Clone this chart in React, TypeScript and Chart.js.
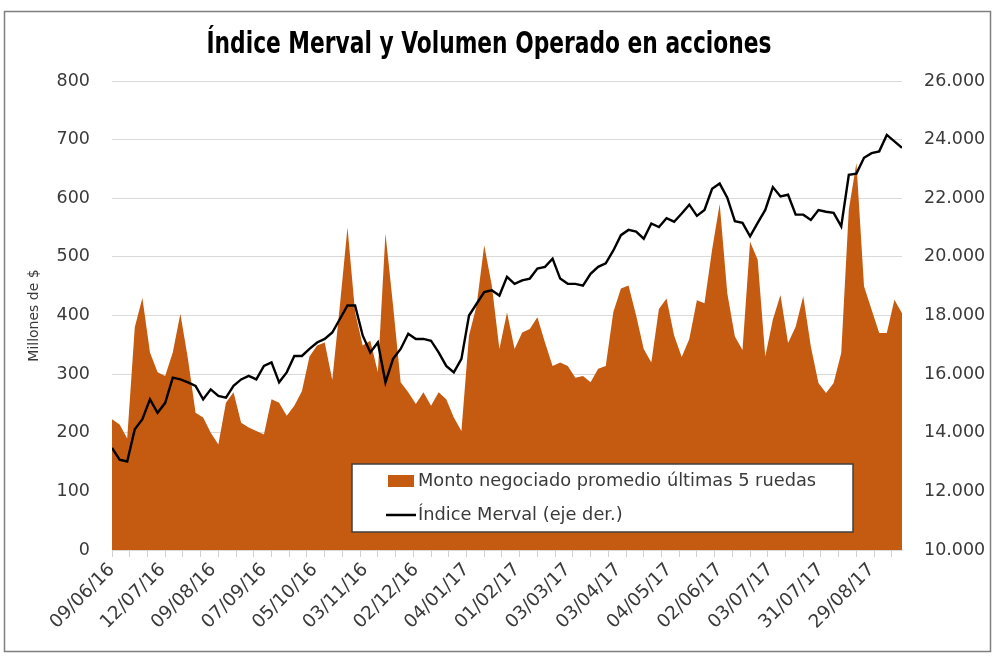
import { useEffect, useRef } from "react";
import { Chart, registerables } from "chart.js";

Chart.register(...registerables);

// ---- data ----
const tickLabels = [
  "09/06/16", "12/07/16", "09/08/16", "07/09/16", "05/10/16", "03/11/16",
  "02/12/16", "04/01/17", "01/02/17", "03/03/17", "03/04/17", "04/05/17",
  "02/06/17", "03/07/17", "31/07/17", "29/08/17",
];

// Monto negociado promedio últimas 5 ruedas (millones de $), one reading every 3 ruedas
const volume = [
  223, 214, 190, 380, 430, 337, 303, 297, 337, 403,
  326, 234, 226, 200, 180, 251, 269, 217, 209, 203,
  197, 257, 251, 229, 246, 271, 330, 349, 354, 290,
  417, 550, 406, 349, 357, 303, 540, 417, 286, 269,
  249, 269, 246, 269, 257, 226, 203, 366, 417, 520,
  451, 343, 405, 343, 371, 377, 397, 354, 314, 320,
  314, 294, 297, 286, 309, 314, 406, 446, 451, 400,
  343, 320, 411, 429, 366, 329, 360, 426, 421, 512,
  590, 438, 364, 341, 526, 495, 330, 393, 435, 353,
  381, 433, 347, 285, 268, 285, 336, 581, 660, 450,
  410, 370, 370, 427, 404,
];

// Índice Merval, same ruedas
const merval = [
  13480, 13080, 13020, 14120, 14460, 15140, 14680, 15020, 15880, 15820,
  15720, 15600, 15140, 15480, 15260, 15200, 15600, 15820, 15940, 15820,
  16280, 16400, 15720, 16060, 16620, 16620, 16860, 17080, 17200, 17420,
  17880, 18340, 18340, 17320, 16740, 17080, 15720, 16520, 16860, 17380,
  17200, 17200, 17140, 16740, 16280, 16060, 16520, 18000, 18400, 18800,
  18860, 18680, 19320, 19080, 19200, 19260, 19600, 19660, 19940, 19260,
  19080, 19080, 19020, 19420, 19660, 19780, 20220, 20740, 20920, 20860,
  20620, 21140, 21020, 21320, 21200, 21480, 21780, 21400, 21600, 22320,
  22500, 22020, 21220, 21160, 20700, 21160, 21600, 22380, 22060, 22120,
  21440, 21440, 21260, 21600, 21540, 21500, 21040, 22800, 22840, 23380,
  23540, 23600, 24160, 23940, 23720,
];

const SAMPLE_STEP = 3; // ruedas between readings
const LABEL_EVERY = 20; // ruedas between date labels
const TICK_EVERY = 7; // ruedas between tick marks
const LAST_RUEDA = (volume.length - 1) * SAMPLE_STEP;

const TITLE = "Índice Merval y Volumen Operado en acciones";
const LEGEND_AREA = "Monto negociado promedio últimas 5 ruedas";
const LEGEND_LINE = "Índice Merval (eje der.)";
const AREA_COLOR = "#C55A11";
const TEXT_COLOR = "#3a3a3a";
const FONT = '"DejaVu Sans", sans-serif';

const fmtThousands = (v: number) =>
  String(Math.round(v)).replace(/\B(?=(\d{3})+(?!\d))/g, ".");

const xTickValues: number[] = (() => {
  const s = new Set<number>();
  for (let v = 0; v <= LAST_RUEDA; v += TICK_EVERY) s.add(v);
  for (let k = 0; k < tickLabels.length; k++) s.add(k * LABEL_EVERY);
  return Array.from(s).sort((a, b) => a - b);
})();

const decorPlugin = {
  id: "decor",
  beforeDraw(chart: any) {
    const ctx = chart.ctx;
    ctx.save();
    ctx.fillStyle = "#ffffff";
    ctx.fillRect(0, 0, chart.width, chart.height);
    ctx.restore();
  },
  afterDraw(chart: any) {
    const ctx = chart.ctx;
    ctx.save();
    // chart frame
    ctx.strokeStyle = "#7f7f7f";
    ctx.lineWidth = 1.5;
    ctx.strokeRect(4.5, 11.5, 986, 640);
    // title (condensed bold)
    ctx.save();
    ctx.fillStyle = "#000";
    ctx.font = 'bold 30px "Liberation Sans Narrow", "DejaVu Sans Condensed", sans-serif';
    ctx.textAlign = "center";
    ctx.textBaseline = "middle";
    const natural = ctx.measureText(TITLE).width;
    const sx = Math.min(1, 565 / natural);
    ctx.translate(489, 45);
    ctx.scale(sx, 1);
    ctx.fillText(TITLE, 0, 0);
    ctx.restore();
    // legend
    const lx = 352, ly = 464, lw = 501, lh = 68;
    ctx.fillStyle = "#ffffff";
    ctx.fillRect(lx, ly, lw, lh);
    ctx.strokeStyle = "#404040";
    ctx.lineWidth = 1.5;
    ctx.strokeRect(lx, ly, lw, lh);
    ctx.fillStyle = AREA_COLOR;
    ctx.fillRect(388, 475, 26, 12);
    ctx.strokeStyle = "#000";
    ctx.lineWidth = 2.5;
    ctx.beginPath();
    ctx.moveTo(386, 515);
    ctx.lineTo(416, 515);
    ctx.stroke();
    ctx.fillStyle = TEXT_COLOR;
    ctx.font = `17.8px ${FONT}`;
    ctx.textAlign = "left";
    ctx.textBaseline = "middle";
    ctx.fillText(LEGEND_AREA, 418, 481);
    ctx.fillText(LEGEND_LINE, 418, 515);
    ctx.restore();
  },
};

export default function App() {
  const ref = useRef<HTMLCanvasElement | null>(null);

  useEffect(() => {
    document.body.style.margin = "0";
    const canvas = ref.current;
    if (!canvas) return;
    const areaData = volume.map((v, k) => ({ x: k * SAMPLE_STEP, y: v }));
    const lineData = merval.map((v, k) => ({ x: k * SAMPLE_STEP, y: v }));

    const chart = new Chart(canvas, {
      type: "line",
      data: {
        datasets: [
          {
            label: LEGEND_LINE,
            data: lineData,
            yAxisID: "y1",
            borderColor: "#000000",
            borderWidth: 2.4,
            pointRadius: 0,
            fill: false,
            tension: 0,
            order: 0,
          },
          {
            label: LEGEND_AREA,
            data: areaData,
            yAxisID: "y",
            borderColor: AREA_COLOR,
            borderWidth: 0,
            backgroundColor: AREA_COLOR,
            pointRadius: 0,
            fill: "origin",
            tension: 0,
            order: 1,
          },
        ],
      },
      plugins: [decorPlugin],
      options: {
        animation: false,
        responsive: false,
        devicePixelRatio: 1,
        layout: { padding: { top: 81, left: 0, right: 0, bottom: 0 } },
        plugins: {
          legend: { display: false },
          title: { display: false },
          tooltip: { enabled: false },
        },
        scales: {
          x: {
            type: "linear",
            min: 0,
            max: LAST_RUEDA,
            afterBuildTicks: (axis: any) => {
              axis.ticks = xTickValues.map((v) => ({ value: v }));
            },
            afterFit: (axis: any) => {
              axis.height = 107;
            },
            ticks: {
              autoSkip: false,
              minRotation: 45,
              maxRotation: 45,
              padding: 2,
              color: TEXT_COLOR,
              font: { family: FONT, size: 18.5 },
              callback: (v: any) =>
                Number(v) % LABEL_EVERY === 0 ? tickLabels[Number(v) / LABEL_EVERY] ?? "" : "",
            },
            grid: {
              drawOnChartArea: false,
              tickLength: 7,
              tickColor: (ctx: any) =>
                ctx.tick && ctx.tick.value % TICK_EVERY === 0 ? "#d0d0d0" : "rgba(0,0,0,0)",
            },
            border: { color: "#d9d9d9", width: 1 },
          },
          y: {
            type: "linear",
            position: "left",
            min: 0,
            max: 800,
            afterFit: (axis: any) => {
              axis.width = 112;
            },
            ticks: {
              stepSize: 100,
              padding: 22,
              color: TEXT_COLOR,
              font: { family: FONT, size: 17.5 },
            },
            grid: { color: "#d9d9d9", drawTicks: false },
            border: { display: false },
            title: {
              display: true,
              text: "Millones de $",
              color: TEXT_COLOR,
              font: { family: FONT, size: 14 },
              padding: { top: 26, bottom: 0 },
            },
          },
          y1: {
            type: "linear",
            position: "right",
            min: 10000,
            max: 26000,
            afterFit: (axis: any) => {
              axis.width = 93;
            },
            ticks: {
              stepSize: 2000,
              padding: 22,
              color: TEXT_COLOR,
              font: { family: FONT, size: 17.5 },
              callback: (v: any) => fmtThousands(Number(v)),
            },
            grid: { drawOnChartArea: false, drawTicks: false },
            border: { display: false },
          },
        },
      },
    } as any);

    return () => chart.destroy();
  }, []);

  return (
    <canvas
      ref={ref}
      width={995}
      height={657}
      style={{ display: "block", width: "995px", height: "657px" }}
    />
  );
}
